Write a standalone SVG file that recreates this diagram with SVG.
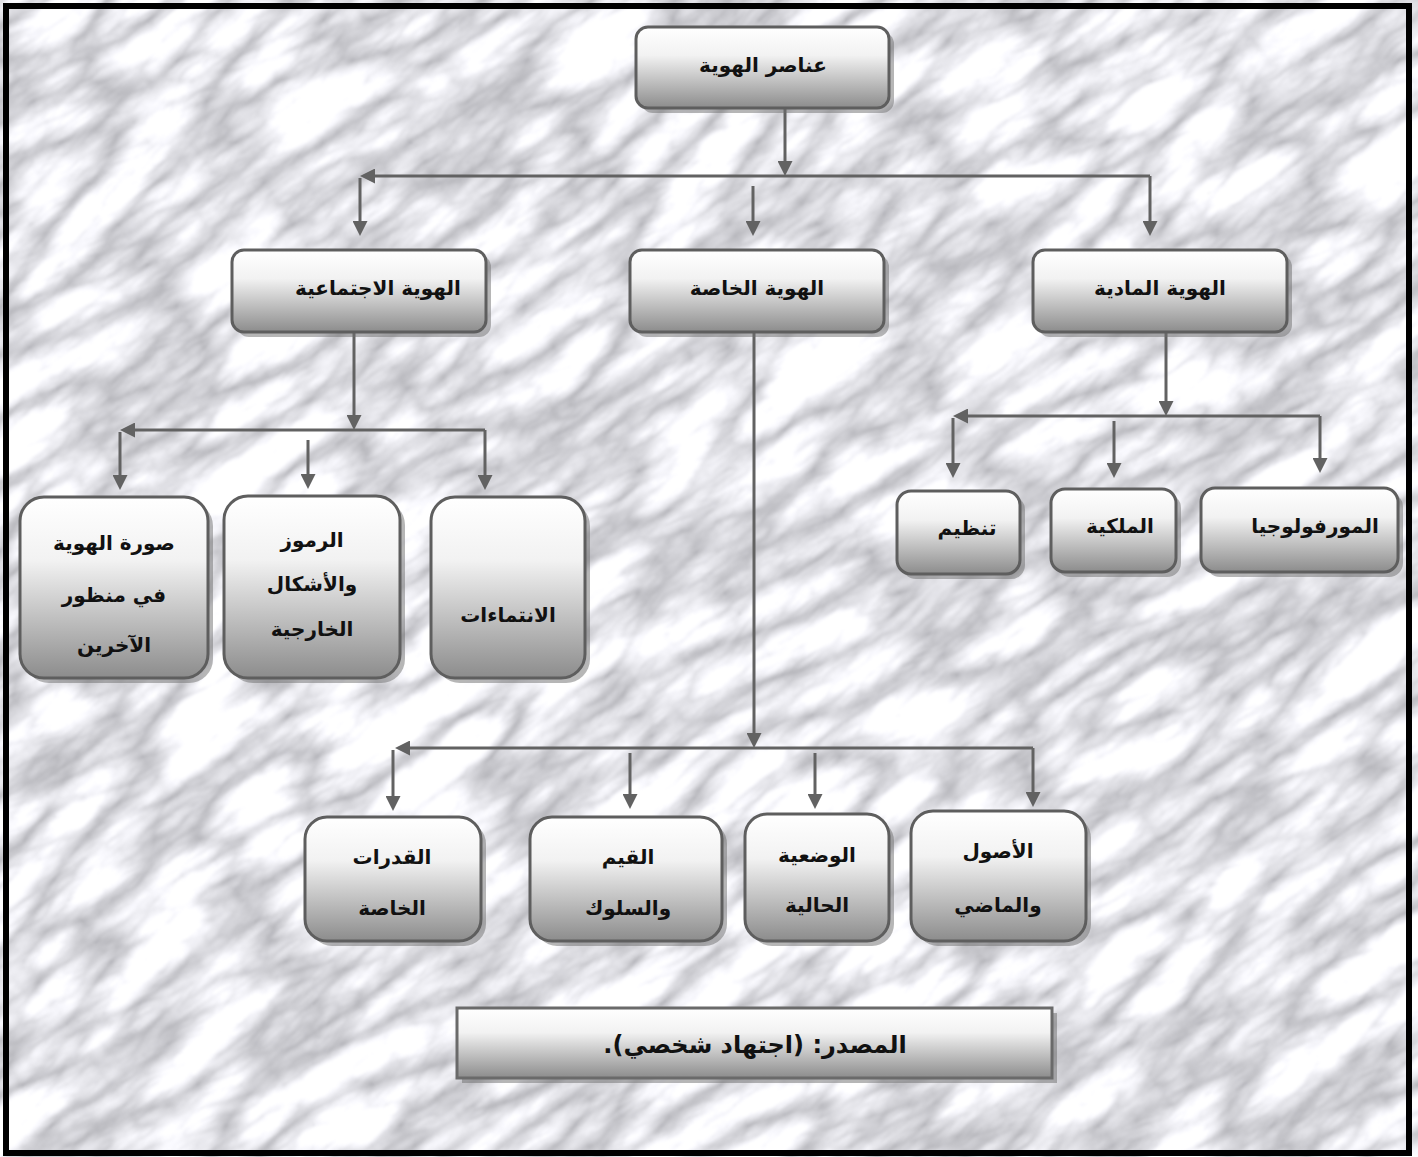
<svg xmlns="http://www.w3.org/2000/svg" width="1418" height="1157" viewBox="0 0 1418 1157">
<defs>
<style>
.box{fill:url(#g);stroke:#5e5e5e;stroke-width:3}
.sh{fill:#6e6e6e;opacity:.5}
.t{font-family:"DejaVu Sans",sans-serif;font-weight:bold;font-size:20px;text-anchor:middle;fill:#111;direction:rtl}
.c{fill:none;stroke:#626262;stroke-width:3;marker-end:url(#ah)}
</style>
<linearGradient id="g" x1="0" y1="0" x2="0" y2="1">
<stop offset="0" stop-color="#ffffff"/>
<stop offset="0.35" stop-color="#f2f2f2"/>
<stop offset="1" stop-color="#8c8c8c"/>
</linearGradient>
<marker id="ah" markerUnits="userSpaceOnUse" markerWidth="15" markerHeight="15" refX="11" refY="7.5" orient="auto">
<path d="M0,0 L15,7.5 L0,15 z" fill="#626262"/>
</marker>
<filter id="marble" x="0" y="0" width="1" height="1" color-interpolation-filters="sRGB">
<feTurbulence type="turbulence" baseFrequency="0.007 0.02" numOctaves="5" seed="11" result="n"/>
<feColorMatrix in="n" type="matrix" values="0.6 0 0 0 0.7  0.6 0 0 0 0.7  0.6 0 0 0 0.72  0 0 0 0 1" result="m"/>
<feGaussianBlur in="m" stdDeviation="1.2"/>
</filter>
</defs>
<g id="background">
<rect x="-291" y="-422" width="2000" height="2000" fill="#e4e4e8" filter="url(#marble)" transform="rotate(-35 709 578)"/>
</g>
<g id="connectors">
<path class="c" d="M785,108 V172"/>
<path class="c" d="M1150,176 H364"/>
<path class="c" d="M360,178 V232"/>
<path class="c" d="M753,186 V232"/>
<path class="c" d="M1150,176 V232"/>
<path class="c" d="M354,332 V426"/>
<path class="c" d="M485,430 H124"/>
<path class="c" d="M120,432 V486"/>
<path class="c" d="M308,440 V485"/>
<path class="c" d="M485,430 V486"/>
<path class="c" d="M1166,332 V412"/>
<path class="c" d="M1320,416 H957"/>
<path class="c" d="M953,418 V474"/>
<path class="c" d="M1114,421 V474"/>
<path class="c" d="M1320,416 V469"/>
<path class="c" d="M754,332 V744"/>
<path class="c" d="M1033,748 H399"/>
<path class="c" d="M393,750 V807"/>
<path class="c" d="M630,753 V805"/>
<path class="c" d="M815,753 V805"/>
<path class="c" d="M1033,748 V803"/>
</g>
<g id="n0">
<rect class="sh" x="641" y="32" width="253" height="81" rx="12"/>
<rect class="box" x="636" y="27" width="253" height="81" rx="12"/>
<text class="t" x="763" y="72">عناصر الهوية</text>
</g>
<g id="n1">
<rect class="sh" x="237" y="255" width="254" height="82" rx="12"/>
<rect class="box" x="232" y="250" width="254" height="82" rx="12"/>
<text class="t" x="378" y="295">الهوية الاجتماعية</text>
</g>
<g id="n2">
<rect class="sh" x="635" y="255" width="254" height="82" rx="12"/>
<rect class="box" x="630" y="250" width="254" height="82" rx="12"/>
<text class="t" x="757" y="295">الهوية الخاصة</text>
</g>
<g id="n3">
<rect class="sh" x="1038" y="255" width="254" height="82" rx="12"/>
<rect class="box" x="1033" y="250" width="254" height="82" rx="12"/>
<text class="t" x="1160" y="295">الهوية المادية</text>
</g>
<g id="n4">
<rect class="sh" x="25" y="502" width="188" height="181" rx="24"/>
<rect class="box" x="20" y="497" width="188" height="181" rx="24"/>
<text class="t" x="114" y="550">صورة الهوية</text>
<text class="t" x="114" y="602">في منظور</text>
<text class="t" x="114" y="652">الآخرين</text>
</g>
<g id="n5">
<rect class="sh" x="229" y="501" width="176" height="182" rx="24"/>
<rect class="box" x="224" y="496" width="176" height="182" rx="24"/>
<text class="t" x="312" y="547">الرموز</text>
<text class="t" x="312" y="591">والأشكال</text>
<text class="t" x="312" y="636">الخارجية</text>
</g>
<g id="n6">
<rect class="sh" x="436" y="502" width="154" height="181" rx="24"/>
<rect class="box" x="431" y="497" width="154" height="181" rx="24"/>
<text class="t" x="508" y="622">الانتماءات</text>
</g>
<g id="n7">
<rect class="sh" x="902" y="496" width="123" height="83" rx="14"/>
<rect class="box" x="897" y="491" width="123" height="83" rx="14"/>
<text class="t" x="967" y="535">تنظيم</text>
</g>
<g id="n8">
<rect class="sh" x="1056" y="494" width="125" height="83" rx="14"/>
<rect class="box" x="1051" y="489" width="125" height="83" rx="14"/>
<text class="t" x="1120" y="533">الملكية</text>
</g>
<g id="n9">
<rect class="sh" x="1206" y="493" width="197" height="84" rx="14"/>
<rect class="box" x="1201" y="488" width="197" height="84" rx="14"/>
<text class="t" x="1315" y="533">المورفولوجيا</text>
</g>
<g id="n10">
<rect class="sh" x="310" y="822" width="176" height="124" rx="22"/>
<rect class="box" x="305" y="817" width="176" height="124" rx="22"/>
<text class="t" x="392" y="864">القدرات</text>
<text class="t" x="392" y="915">الخاصة</text>
</g>
<g id="n11">
<rect class="sh" x="535" y="822" width="192" height="124" rx="22"/>
<rect class="box" x="530" y="817" width="192" height="124" rx="22"/>
<text class="t" x="628" y="864">القيم</text>
<text class="t" x="628" y="915">والسلوك</text>
</g>
<g id="n12">
<rect class="sh" x="750" y="819" width="144" height="127" rx="22"/>
<rect class="box" x="745" y="814" width="144" height="127" rx="22"/>
<text class="t" x="817" y="862">الوضعية</text>
<text class="t" x="817" y="912">الحالية</text>
</g>
<g id="n13">
<rect class="sh" x="916" y="816" width="175" height="130" rx="22"/>
<rect class="box" x="911" y="811" width="175" height="130" rx="22"/>
<text class="t" x="998" y="858">الأصول</text>
<text class="t" x="998" y="912">والماضي</text>
</g>
<g id="source">
<rect class="sh" x="462" y="1013" width="595" height="70"/>
<rect class="box" x="457" y="1008" width="595" height="70" style="stroke:#6a6a6a"/>
<text class="t" x="755" y="1053" style="font-size:24px">المصدر: (اجتهاد شخصي).</text>
</g>
<rect id="frame" x="6" y="6" width="1403" height="1147" fill="none" stroke="#000" stroke-width="6"/>
</svg>
